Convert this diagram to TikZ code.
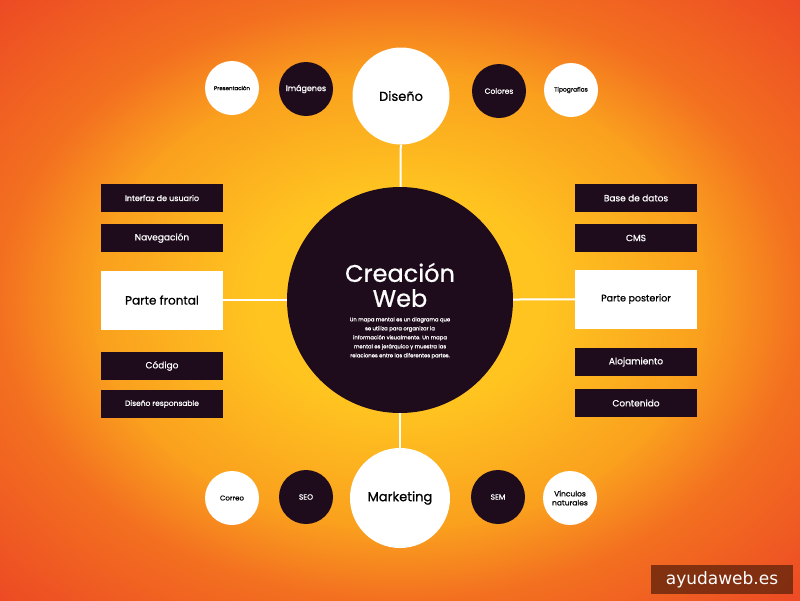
\documentclass[tikz,border=0pt]{standalone}
\usepackage{fontspec}
\setmainfont{Poppins}[FakeBold=0.8]
\newfontfamily\markfont{DejaVu Sans}
\definecolor{plum}{RGB}{30,12,28}
\definecolor{sunny}{RGB}{255,196,32}
\definecolor{amber}{RGB}{250,160,30}
\definecolor{tangerine}{RGB}{243,112,32}
\definecolor{blaze}{RGB}{236,72,36}
\definecolor{rust}{RGB}{110,40,14}
\pgfdeclareradialshading{glow}{\pgfpoint{0bp}{0bp}}{color(0bp)=(sunny); color(9bp)=(sunny); color(19bp)=(amber); color(25bp)=(tangerine); color(36bp)=(blaze); color(50bp)=(blaze)}
\begin{document}
\begin{tikzpicture}[x=1pt, y=-1pt,
  hub/.style={circle, fill=plum, text=white, minimum size=226pt, inner sep=0pt},
  bigdot/.style={circle, fill=white, text=black, minimum size=97pt, inner sep=0pt, font=\fontsize{13}{15}\selectfont},
  lightdot/.style={circle, fill=white, text=black, minimum size=54pt, inner sep=0pt, align=center},
  darkdot/.style={circle, fill=plum, text=white, minimum size=54pt, inner sep=0pt, align=center, font=\fontsize{7.5}{9}\selectfont},
  darkbox/.style={rectangle, fill=plum, text=white, minimum width=122pt, minimum height=28pt, inner sep=0pt, font=\fontsize{9}{11}\selectfont},
  lightbox/.style={rectangle, fill=white, text=black, minimum width=122pt, minimum height=59pt, inner sep=0pt},
  link/.style={draw=white, line width=2pt}]
  % background
  \useasboundingbox (0,0) rectangle (800,600);
  \shade[shading=glow] (0,0) rectangle (800,600);
  % centre
  \node[hub] (web) at (400,300) {};
  \node[text=white, align=center, font=\fontsize{24}{25}\selectfont] (webtitle) at (400,285) {Creación\\Web};
  \node[text=white, align=center, font=\fontsize{5.3}{9}\selectfont] (webtext) at (400,338)
    {Un mapa mental es un diagrama que\\se utiliza para organizar la\\información visualmente. Un mapa\\mental es jerárquico y muestra las\\relaciones entre las diferentes partes.};
  % top branch
  \node[bigdot] (diseno) at (401,96) {Diseño};
  \node[lightdot, font=\fontsize{5.5}{7}\selectfont] (presentacion) at (232,88) {Presentación};
  \node[darkdot, font=\fontsize{8}{9}\selectfont] (imagenes) at (306,89) {Imágenes};
  \node[darkdot] (colores) at (499,91) {Colores};
  \node[lightdot, font=\fontsize{6}{7}\selectfont] (tipografias) at (571,90) {Tipografías};
  % bottom branch
  \node[bigdot, minimum size=100pt] (marketing) at (400,498) {Marketing};
  \node[lightdot, font=\fontsize{7}{8}\selectfont] (correo) at (232,498) {Correo};
  \node[darkdot] (seo) at (306,497) {SEO};
  \node[darkdot] (sem) at (498,497) {SEM};
  \node[lightdot, font=\fontsize{7.5}{9}\selectfont] (vinculos) at (570,498) {Vínculos\\naturales};
  % left branch
  \node[darkbox, font=\fontsize{8}{10}\selectfont] (interfaz) at (162,198) {Interfaz de usuario};
  \node[darkbox] (navegacion) at (162,238) {Navegación};
  \node[lightbox, font=\fontsize{12}{14}\selectfont] (frontal) at (162,300) {Parte frontal};
  \node[darkbox] (codigo) at (162,366) {Código};
  \node[darkbox, font=\fontsize{7.5}{9}\selectfont] (responsable) at (162,404) {Diseño responsable};
  % right branch
  \node[darkbox] (datos) at (636,198) {Base de datos};
  \node[darkbox] (cms) at (636,238) {CMS};
  \node[lightbox, font=\fontsize{9.5}{11}\selectfont] (posterior) at (636,299) {Parte posterior};
  \node[darkbox] (alojamiento) at (636,362) {Alojamiento};
  \node[darkbox] (contenido) at (636,403) {Contenido};
  % links
  \draw[link] (diseno) -- (web);
  \draw[link] (web) -- (marketing);
  \draw[link] (frontal) -- (web);
  \draw[link] (web) -- (posterior);
  % watermark
  \node[fill=rust, fill opacity=0.85, text opacity=1, text=white, minimum width=142pt, minimum height=29pt, inner sep=0pt, font=\markfont\fontsize{17}{19}\selectfont] (sello) at (722,579.5) {ayudaweb.es};
\end{tikzpicture}
\end{document}
